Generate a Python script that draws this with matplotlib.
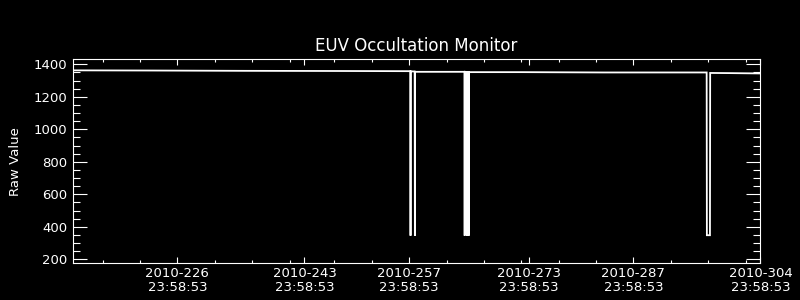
"""
EUV Occultation Monitor - raw value time series, IDL style (white on black)
Output: out.png
"""
import matplotlib
matplotlib.use("Agg")
import matplotlib.pyplot as plt
import matplotlib.ticker as mticker

# time of day shared by every tick label (23:58:53) as fraction of a day
TOD = (23 * 3600 + 58 * 60 + 53) / 86400.0

# Data: day of year 2010 (in label-day units, add TOD for real DOY), raw value
days = [212.0, 222.0, 235.0, 248.0,
        257.16, 257.19, 257.22,
        257.74, 257.77, 257.80,
        264.40, 264.43, 264.46,
        264.72, 264.75, 264.78,
        264.94, 264.97, 265.00,
        272.0, 283.0, 296.80, 296.83,
        297.24, 297.27, 300.0, 304.0]
raw = [1363, 1362, 1360, 1359,
       1358, 345, 1357,
       1356, 345, 1354,
       1354, 345, 1354,
       1353, 345, 1353,
       1353, 345, 1352,
       1352, 1350, 1350, 348,
       348, 1347, 1346, 1344]

major_days = [226, 243, 257, 273, 287, 304]
minor_days = [216, 221, 231, 236, 241, 247, 252, 262, 267, 272,
              277, 282, 292, 297, 302]
y_major = [200, 400, 600, 800, 1000, 1200, 1400]

FG = "white"
BG = "black"

fig = plt.figure(figsize=(8, 3), dpi=100, facecolor=BG)
ax = fig.add_axes([0.0909, 0.1223, 0.8597, 0.68], facecolor=BG)

t = [d + TOD for d in days]
ax.plot(t, raw, color=FG, lw=1.3, solid_joinstyle="miter")

ax.set_xlim(212.0 + TOD, 304.0 + TOD)
ax.set_ylim(175, 1431)

ax.set_xticks([d + TOD for d in major_days])
ax.set_xticklabels([f"2010-{d:03d}\n23:58:53" for d in major_days])
ax.set_xticks([d + TOD for d in minor_days], minor=True)
ax.set_yticks(y_major)
ax.yaxis.set_minor_locator(mticker.MultipleLocator(50))

for s in ax.spines.values():
    s.set_color(FG)
    s.set_linewidth(0.8)

ax.tick_params(axis="both", which="both", direction="in", colors=FG,
               top=True, right=True, width=0.8)
ax.tick_params(axis="x", which="major", length=4.5, pad=3, labelsize=9.5)
ax.tick_params(axis="x", which="minor", length=2.3)
ax.tick_params(axis="y", which="major", length=10, pad=4, labelsize=9.5)
ax.tick_params(axis="y", which="minor", length=5)
for lab in ax.get_xticklabels():
    lab.set_linespacing(1.1)

ax.set_ylabel("Raw Value", color=FG, fontsize=9.5, labelpad=8)
ax.set_title("EUV Occultation Monitor", color=FG, fontsize=12, pad=6)

fig.savefig("out.png", dpi=100, facecolor=BG)
